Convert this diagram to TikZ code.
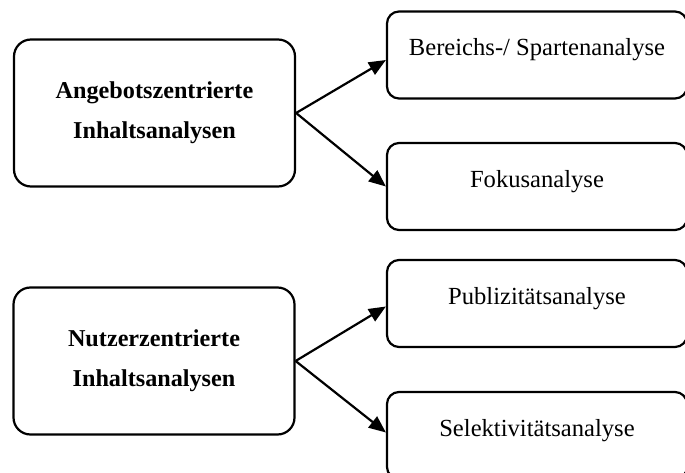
\documentclass[tikz,border=0pt]{standalone}
\usepackage{fontspec}
\setmainfont{Liberation Serif}
\usetikzlibrary{arrows.meta}

\begin{document}
\begin{tikzpicture}[x=1pt,y=-1pt,line width=2.2pt,>={Triangle[length=17pt,width=14pt]},
  mainbox/.style={draw,rounded corners=17pt,minimum width=281pt,minimum height=147pt,align=center,font=\fontsize{24.2}{40}\selectfont\bfseries},
  subbox/.style={draw,rounded corners=12pt,minimum width=300pt,minimum height=87pt,font=\fontsize{24.6}{28}\selectfont,text height=17pt,text depth=15pt}]
	\useasboundingbox (0,0) rectangle (685,473);
	\clip (0,0) rectangle (685,473);
	% left side
	\node[mainbox] (angebot) at (154.5,113) {Angebotszentrierte\\Inhaltsanalysen};
	\node[mainbox] (nutzer) at (154,361) {Nutzerzentrierte\\Inhaltsanalysen};
	% right side
	\node[subbox] (bereich) at (537,55) {Bereichs-/ Spartenanalyse};
	\node[subbox] (fokus) at (537,186.5) {Fokusanalyse};
	\node[subbox] (publiz) at (537,303.5) {Publizitätsanalyse};
	\node[subbox] (selekt) at (537,435.5) {Selektivitätsanalyse};
	% arrows
	\draw[->] (angebot.east) -- ([yshift=-5pt]bereich.west);
	\draw[->] (angebot.east) -- (fokus.west);
	\draw[->] (nutzer.east) -- ([yshift=-3pt]publiz.west);
	\draw[->] (nutzer.east) -- ([yshift=3pt]selekt.west);
\end{tikzpicture}
\end{document}
